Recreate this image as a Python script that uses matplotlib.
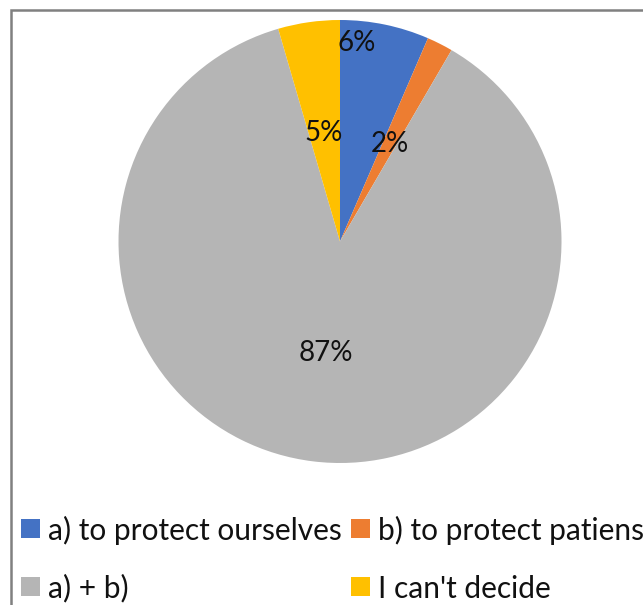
import matplotlib
matplotlib.use("Agg")
import matplotlib.pyplot as plt
from matplotlib.patches import Rectangle
import numpy as np

# data
categories = ["a) to protect ourselves", "b) to protect patiens", "a) + b)", "I can't decide"]
values = [6.5, 1.9, 87.1, 4.5]
pct_labels = ["6%", "2%", "87%", "5%"]
colors = ["#4472C4", "#ED7D31", "#B5B5B5", "#FFC000"]

# label placement: radius (fraction of pie radius) and position inside wedge (0..1)
label_r = [0.90, 0.495, 0.505, 0.495]
label_frac = [0.79, 0.46, 0.50, 0.52]

plt.rcParams["font.family"] = ["Lato", "DejaVu Sans"]

W, H = 643, 605
fig = plt.figure(figsize=(W / 100, H / 100), dpi=100)

cx, cy, rad = 340, 241.5, 221.5
ax = fig.add_axes([(cx - rad) / W, (H - cy - rad) / H, 2 * rad / W, 2 * rad / H])
wedges, _ = ax.pie(values, colors=colors, startangle=90, counterclock=False,
                   radius=1.0, wedgeprops=dict(linewidth=0))
ax.set_xlim(-1, 1)
ax.set_ylim(-1, 1)
ax.set_aspect("equal")
ax.axis("off")

for w, lab, r, f in zip(wedges, pct_labels, label_r, label_frac):
    ang = np.deg2rad(w.theta1 + f * (w.theta2 - w.theta1))
    ax.text(r * np.cos(ang), r * np.sin(ang), lab, ha="center", va="center",
            fontsize=20, color="#111111")

# legend drawn by hand: 2 columns x 2 rows, row-major
col_x = [21, 351]      # left edge of key square, px
row_y = [528, 586]     # row centre, px
key = 19
for i, (name, c) in enumerate(zip(categories, colors)):
    x0 = col_x[i % 2]
    yc = row_y[i // 2]
    fig.patches.append(Rectangle((x0 / W, 1 - (yc + key / 2) / H), key / W, key / H,
                                 transform=fig.transFigure, facecolor=c,
                                 edgecolor="none"))
    fig.text((x0 + key + 8) / W, 1 - yc / H, name, ha="left", va="center_baseline",
             fontsize=21.5, color="#111111")

# outer frame (cut off at right/bottom like the source)
fig.patches.append(Rectangle((11 / W, -0.05), 1.2, 1 - 10 / H + 0.05,
                             transform=fig.transFigure, fill=False,
                             edgecolor="#808080", linewidth=1.8))

fig.savefig("out.png", dpi=100)
